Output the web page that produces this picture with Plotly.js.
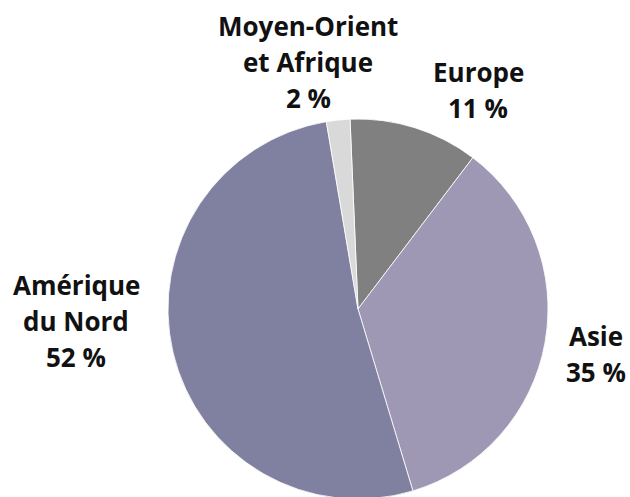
<!DOCTYPE html>
<html>
<head>
<meta charset="utf-8">
<script src="https://cdn.plot.ly/plotly-3.0.1.min.js"></script>
<style>
html,body{margin:0;padding:0;overflow:hidden;background:#fff;}
#chart{width:630px;height:500px;}
</style>
</head>
<body>
<div id="chart"></div>
<script>
var regions = ["Europe", "Asie", "Amérique du Nord", "Moyen-Orient et Afrique"];
var labelLines = [["Europe"], ["Asie"], ["Amérique", "du Nord"], ["Moyen-Orient", "et Afrique"]];
var shares = [11, 35, 52, 2];
var colors = ["#808080", "#9e98b5", "#8080a0", "#d9d9d9"];

var W = 630, H = 500;
// label block centres (px)
var labelPos = [[478, 90], [596, 354], [76, 321], [308, 62]];
var lineGap = 36;

var trace = {
  type: "pie",
  labels: regions,
  values: shares,
  sort: false,
  direction: "clockwise",
  rotation: -2.4,
  textinfo: "none",
  hoverinfo: "label+percent",
  marker: {colors: colors, line: {color: "#ffffff", width: 0.8}},
  domain: {x: [358/W - 190/W, 358/W + 190/W], y: [(H-309)/H - 190/H, (H-309)/H + 190/H]},
  showlegend: false
};

var annotations = [];
regions.forEach(function(r, i) {
  var lines = labelLines[i].concat([shares[i] + " %"]);
  var n = lines.length;
  lines.forEach(function(t, j) {
    var ypx = labelPos[i][1] + (j - (n - 1) / 2) * lineGap;
    annotations.push({
      xref: "paper", yref: "paper",
      x: labelPos[i][0] / W, y: 1 - ypx / H,
      xanchor: "center", yanchor: "middle",
      showarrow: false,
      text: "<b>" + t + "</b>",
      font: {family: "Open Sans", size: 26, color: "#111111"}
    });
  });
});

var layout = {
  width: W, height: H,
  margin: {l: 0, r: 0, t: 0, b: 0},
  paper_bgcolor: "#ffffff",
  annotations: annotations
};

Plotly.newPlot("chart", [trace], layout, {displayModeBar: false, staticPlot: true});
</script>
</body>
</html>
